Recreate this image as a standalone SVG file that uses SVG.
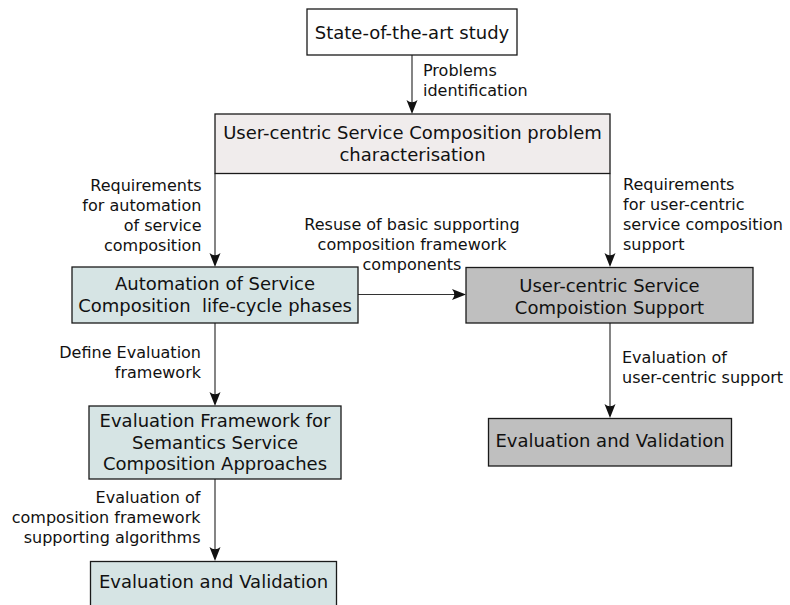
<svg xmlns="http://www.w3.org/2000/svg" width="790" height="605" viewBox="0 0 790 605">
  <defs>
    <style>
      .box { stroke: #1a1a1a; stroke-width: 1.3; }
      .plain { fill: #ffffff; }
      .pink { fill: #f0ecec; }
      .teal { fill: #d6e4e4; }
      .grey { fill: #bfbfbf; }
      .t { font-family: "DejaVu Sans", "Liberation Sans", sans-serif; font-size: 18px; fill: #111; text-anchor: middle; }
      .lbl { font-family: "DejaVu Sans", "Liberation Sans", sans-serif; font-size: 16px; fill: #111; }
      .r { text-anchor: end; }
      .c { text-anchor: middle; }
      .l { text-anchor: start; }
      .wire { stroke: #333; stroke-width: 1.2; fill: none; marker-end: url(#head); }
    </style>
    <marker id="head" viewBox="-15 -6 16 12" refX="-3" refY="0" markerWidth="16" markerHeight="12" markerUnits="userSpaceOnUse" orient="auto">
      <path d="M0,0 L-14,-5.5 Q-9.5,0 -14,5.5 Z" fill="#111"/>
    </marker>
  </defs>

  <rect width="790" height="605" fill="#ffffff"/>

  <!-- connectors -->
  <g id="connectors">
    <line class="wire" x1="412" y1="55" x2="412" y2="111"/>
    <line class="wire" x1="215" y1="173.5" x2="215" y2="264"/>
    <line class="wire" x1="610" y1="173.5" x2="610" y2="264"/>
    <line class="wire" x1="358" y1="294.5" x2="463" y2="294.5"/>
    <line class="wire" x1="610" y1="323" x2="610" y2="415"/>
    <line class="wire" x1="215" y1="323" x2="215" y2="403"/>
    <line class="wire" x1="215" y1="479" x2="215" y2="558"/>

    <text class="lbl l" x="423" y="76">Problems</text>
    <text class="lbl l" x="423" y="96">identification</text>

    <text class="lbl r" x="201.5" y="191">Requirements</text>
    <text class="lbl r" x="201.5" y="211">for automation</text>
    <text class="lbl r" x="201.5" y="231">of service</text>
    <text class="lbl r" x="201.5" y="251">composition</text>

    <text class="lbl c" x="412" y="230">Resuse of basic supporting</text>
    <text class="lbl c" x="412" y="250">composition framework</text>
    <text class="lbl c" x="412" y="270">components</text>

    <text class="lbl l" x="623" y="190">Requirements</text>
    <text class="lbl l" x="623" y="210">for user-centric</text>
    <text class="lbl l" x="623" y="230">service composition</text>
    <text class="lbl l" x="623" y="250">support</text>

    <text class="lbl r" x="201" y="358">Define Evaluation</text>
    <text class="lbl r" x="201" y="378">framework</text>

    <text class="lbl l" x="622" y="363">Evaluation of</text>
    <text class="lbl l" x="622" y="383">user-centric support</text>

    <text class="lbl r" x="200.5" y="503">Evaluation of</text>
    <text class="lbl r" x="200.5" y="523">composition framework</text>
    <text class="lbl r" x="200.5" y="543">supporting algorithms</text>
  </g>

  <!-- nodes -->
  <g id="state-of-the-art">
    <rect class="box plain" x="307" y="9" width="210" height="46"/>
    <text class="t" x="412" y="38.5">State-of-the-art study</text>
  </g>

  <g id="problem-characterisation">
    <rect class="box pink" x="215" y="114" width="395" height="59.5"/>
    <text class="t" x="412.5" y="139">User-centric Service Composition problem</text>
    <text class="t" x="412.5" y="161">characterisation</text>
  </g>

  <g id="automation">
    <rect class="box teal" x="72" y="267" width="286" height="56"/>
    <text class="t" x="215" y="290">Automation of Service</text>
    <text class="t" x="215" y="312">Composition&#160; life-cycle phases</text>
  </g>

  <g id="user-centric-support">
    <rect class="box grey" x="466" y="267.5" width="287" height="55.5"/>
    <text class="t" x="609.5" y="291.5">User-centric Service</text>
    <text class="t" x="609.5" y="313.5">Compoistion Support</text>
  </g>

  <g id="evaluation-framework">
    <rect class="box teal" x="89" y="406" width="252" height="73"/>
    <text class="t" x="215" y="427">Evaluation Framework for</text>
    <text class="t" x="215" y="448.5">Semantics Service</text>
    <text class="t" x="215" y="470">Composition Approaches</text>
  </g>

  <g id="validation-right">
    <rect class="box grey" x="488.5" y="418.5" width="243" height="47.5"/>
    <text class="t" x="610" y="447">Evaluation and Validation</text>
  </g>

  <g id="validation-left">
    <rect class="box teal" x="90.5" y="561.5" width="246" height="60"/>
    <text class="t" x="213.5" y="587.5">Evaluation and Validation</text>
  </g>
</svg>
